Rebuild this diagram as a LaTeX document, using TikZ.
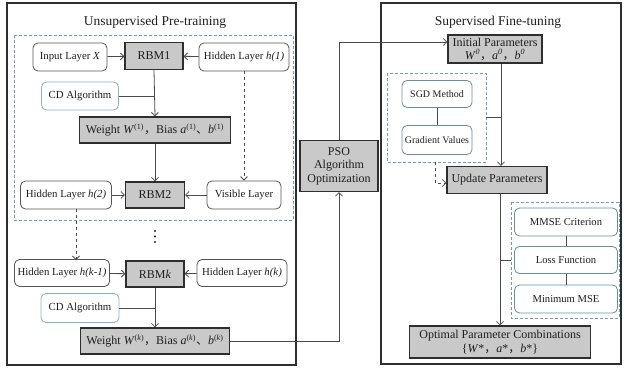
\documentclass[tikz,border=0pt]{standalone}
\usepackage{fontspec}
\setmainfont{Liberation Serif}
\newfontfamily\cjk{Noto Sans CJK SC}
\usetikzlibrary{arrows.meta,calc}

\definecolor{boxgray}{HTML}{C9C9C9}
\definecolor{edgedark}{HTML}{2E2E2E}
\definecolor{edgesoft}{HTML}{555555}
\definecolor{linegray}{HTML}{4A4A4A}
\definecolor{cdblue}{HTML}{7FB2D0}
\definecolor{grpblue}{HTML}{6E9DBE}
\definecolor{textdark}{HTML}{1E1E1E}

\newcommand{\cm}{{\cjk ，}}
\newcommand{\dn}{{\cjk 、}}

\begin{document}
\begin{tikzpicture}[x=1pt,y=-1pt,
  every node/.style={text=textdark,inner sep=0pt,align=center},
  outer/.style={draw=edgedark,line width=1.1pt},
  grp/.style={draw=grpblue,line width=0.8pt,dash pattern=on 3pt off 2pt},
  gbox/.style={draw=edgedark,fill=boxgray,line width=1.2pt,font=\fontsize{12}{14}\selectfont},
  wbox/.style={draw=edgesoft,fill=white,rounded corners=5pt,line width=0.8pt,
               minimum height=28,font=\fontsize{10.8}{13}\selectfont},
  cdbox/.style={wbox,draw=cdblue},
  bbox/.style={wbox,draw=cdblue!80!black,minimum width=70},
  conn/.style={draw=linegray,line width=0.8pt},
  arr/.style={conn,-{Straight Barb[length=3.5pt,width=7pt]}},
  darr/.style={arr,dashed},
  ttl/.style={font=\fontsize{13.5}{16}\selectfont}
]
\useasboundingbox (0,0) rectangle (624,369);

% ---- outer panels ----
\draw[outer] (7,3) rectangle (296,365);
\draw[outer] (381,3) rectangle (621,364);
\node[ttl] (t1) at (155,22) {Unsupervised Pre-training};
\node[ttl] (t2) at (498,22) {Supervised Fine-tuning};

% ---- group frames ----
\draw[grp] (14,35) rectangle (293,220);
\draw[grp] (387,73) rectangle (486,162);
\draw[grp] (511,202) rectangle (619,318);

% ---- pre-training: first RBM ----
\node[wbox,minimum width=74] (inx) at (70,57) {Input Layer \textit{X}};
\node[gbox,minimum width=58,minimum height=27] (rbm1) at (154,56) {RBM1};
\node[wbox,minimum width=90] (h1) at (244,57) {Hidden Layer \textit{h(1)}};
\node[cdbox,minimum width=77] (cd1) at (80,96) {CD Algorithm};
\node[gbox,minimum width=151,minimum height=26] (w1) at (155,130)
  {Weight \textit{W}\textsuperscript{(1)}\cm Bias \textit{a}\textsuperscript{(1)}\dn\textit{b}\textsuperscript{(1)}};

% ---- second RBM ----
\node[wbox,minimum width=91] (h2) at (66,195) {Hidden Layer \textit{h(2)}};
\node[gbox,minimum width=59,minimum height=26] (rbm2) at (155,195) {RBM2};
\node[wbox,minimum width=74] (vis) at (244,195) {Visible Layer};

% ---- vertical ellipsis between stages ----
\foreach \yy in {231,236.5,242} \fill[textdark] (155,\yy) circle (1.1pt);

% ---- k-th RBM ----
\node[wbox,minimum width=95,minimum height=27] (hk1) at (62,273) {Hidden Layer \textit{h(k-1)}};
\node[gbox,minimum width=58,minimum height=26] (rbmk) at (155,274) {RBM\textit{k}};
\node[wbox,minimum width=90,minimum height=27] (hk) at (242,273) {Hidden Layer \textit{h(k)}};
\node[cdbox,minimum width=78,minimum height=29] (cd2) at (80,308) {CD Algorithm};
\node[gbox,minimum width=149,minimum height=26] (wk) at (155,341)
  {Weight \textit{W}\textsuperscript{(\textit{k})}\cm Bias \textit{a}\textsuperscript{(\textit{k})}\dn\textit{b}\textsuperscript{(\textit{k})}};

% ---- PSO ----
\node[gbox,minimum width=78,minimum height=51,font=\fontsize{12}{14}\selectfont] (pso) at (339,166)
  {PSO\\[-0.5pt]Algorithm\\[-0.5pt]Optimization};

% ---- fine-tuning ----
\node[gbox,minimum width=94,minimum height=28,font=\fontsize{12}{13}\selectfont] (init) at (495,49)
  {Initial Parameters\\\textit{W}\textsuperscript{\textit{0}}\cm\textit{a}\textsuperscript{\textit{0}}\cm\textit{b}\textsuperscript{\textit{0}}};
\node[bbox,minimum height=27,font=\fontsize{10}{12}\selectfont] (sgd) at (437,94) {SGD Method};
\node[bbox,minimum height=29,font=\fontsize{10}{12}\selectfont] (grad) at (437,140) {Gradient Values};
\node[gbox,minimum width=100,minimum height=27] (upd) at (497,180) {Update Parameters};
\node[bbox,minimum width=103,font=\fontsize{10.6}{12}\selectfont] (mmse) at (566,222) {MMSE Criterion};
\node[bbox,minimum width=103,minimum height=27,font=\fontsize{10.6}{12}\selectfont] (loss) at (566,260) {Loss Function};
\node[bbox,minimum width=103,font=\fontsize{10.6}{12}\selectfont] (mmin) at (566,299) {Minimum MSE};
\node[gbox,minimum width=181,minimum height=32,font=\fontsize{12}{13.5}\selectfont] (opt) at (500,342)
  {Optimal Parameter Combinations\\\{\textit{W}*\cm\textit{a}*\cm\textit{b}*\}};

% ---- junction points ----
\coordinate (j1) at (rbm1.south |- cd1.east);
\coordinate (jk) at (rbmk.south |- cd2.east);
\coordinate (sgdR) at (486,117);
\coordinate (jsgd) at (501,117);
\coordinate (sgdB) at (435,162);
\coordinate (grpR) at (511,260);
\coordinate (jloss) at (500,260);
\coordinate (h2drop) at (76,209);
\coordinate (hk1top) at (76,260);

% ---- connectors: pre-training ----
\draw[arr] (inx) -- (rbm1);
\draw[arr] (h1) -- (rbm1);
\draw[arr] (rbm1.south) -- (w1.north);
\draw[conn] (cd1.east) -- (j1);
\draw[arr] (w1.south) -- (rbm2.north);
\draw[darr] (h1.south) -- (vis.north);
\draw[arr] (h2) -- (rbm2);
\draw[arr] (vis) -- (rbm2);
\draw[darr] (h2drop) -- (hk1top);
\draw[arr] (hk1) -- (rbmk);
\draw[arr] (hk) -- (rbmk);
\draw[arr] (rbmk.south) -- (wk.north);
\draw[conn] (cd2.east) -- (jk);

% ---- connectors: PSO ----
\draw[arr] (wk.east) -| (pso.south);
\draw[arr] (pso.north) |- ($(init.west)+(0,-7)$);

% ---- connectors: fine-tuning ----
\draw[arr] (init.south -| jsgd) -- (upd.north -| jsgd);
\draw[conn] (sgdR) -- (jsgd);
\draw[conn] (sgd) -- (grad);
\draw[darr] (sgdB) |- ($(upd.west)+(0,3)$);
\draw[arr] (upd.south -| jloss) -- (opt.north -| jloss);
\draw[conn] (grpR) -- (jloss);
\draw[conn] (mmse) -- (loss);
\draw[conn] (loss) -- (mmin);
\end{tikzpicture}
\end{document}
